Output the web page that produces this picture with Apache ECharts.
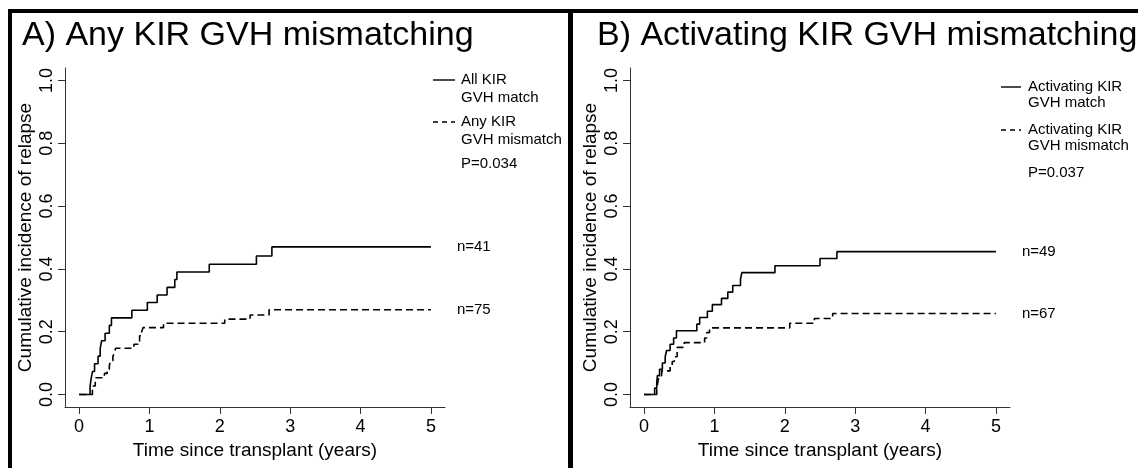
<!DOCTYPE html>
<html>
<head>
<meta charset="utf-8">
<script src="https://cdn.jsdelivr.net/npm/echarts@6/dist/echarts.min.js"></script>
<style>
  html, body { margin: 0; padding: 0; background: #fff; }
  #chart { width: 1138px; height: 468px; }
</style>
</head>
<body>
<div id="chart"></div>
<script>
const xTicks = [0, 1, 2, 3, 4, 5];
const yTicks = [0, 0.2, 0.4, 0.6, 0.8, 1.0];

// A) any KIR GVH mismatching
const aMatchTime = [0, 0.156, 0.17, 0.19, 0.22, 0.27, 0.3, 0.32, 0.37, 0.43, 0.46, 0.75, 0.97, 1.11, 1.25, 1.36, 1.39, 1.85, 2.52, 2.74, 5];
const aMatchCI   = [0, 0.024, 0.049, 0.073, 0.098, 0.122, 0.146, 0.171, 0.195, 0.22, 0.244, 0.268, 0.293, 0.317, 0.341, 0.366, 0.39, 0.415, 0.441, 0.47, 0.47];
const aMismatchTime = [0, 0.19, 0.23, 0.36, 0.4, 0.43, 0.45, 0.48, 0.5, 0.52, 0.78, 0.86, 0.89, 0.91, 1.2, 2.07, 2.43, 2.7, 5];
const aMismatchCI   = [0, 0.027, 0.053, 0.067, 0.08, 0.093, 0.107, 0.12, 0.133, 0.147, 0.16, 0.187, 0.2, 0.213, 0.227, 0.24, 0.253, 0.27, 0.27];

// B) activating KIR GVH mismatching
const bMatchTime = [0, 0.15, 0.18, 0.19, 0.22, 0.26, 0.3, 0.32, 0.37, 0.42, 0.46, 0.75, 0.79, 0.9, 0.97, 1.1, 1.19, 1.26, 1.37, 1.39, 1.86, 2.5, 2.74, 5];
const bMatchCI   = [0, 0.02, 0.04, 0.06, 0.08, 0.1, 0.12, 0.14, 0.16, 0.18, 0.203, 0.224, 0.245, 0.265, 0.286, 0.306, 0.326, 0.347, 0.367, 0.388, 0.41, 0.433, 0.455, 0.455];
const bMismatchTime = [0, 0.18, 0.2, 0.22, 0.25, 0.37, 0.4, 0.43, 0.47, 0.57, 0.86, 0.89, 0.93, 2.07, 2.42, 2.68, 5];
const bMismatchCI   = [0, 0.015, 0.045, 0.06, 0.075, 0.09, 0.105, 0.12, 0.15, 0.165, 0.18, 0.197, 0.212, 0.227, 0.242, 0.258, 0.258];

const FONT = "'Liberation Sans', Arial, Helvetica, sans-serif";
const AXIS_COLOR = "#333";

const zip = (xs, ys) => xs.map((x, i) => [x, ys[i]]);

function xAxisFor(gridIndex) {
  return {
    type: "value",
    gridIndex,
    min: -0.2,
    max: 5.2,
    name: "Time since transplant (years)",
    nameLocation: "middle",
    nameGap: 34,
    nameTextStyle: { color: "#000", fontSize: 19, fontFamily: FONT },
    axisLine: { onZero: false, lineStyle: { color: AXIS_COLOR, width: 1 } },
    axisTick: { show: true, length: 7, customValues: xTicks, lineStyle: { color: AXIS_COLOR } },
    axisLabel: { customValues: xTicks, margin: 11, color: "#000", fontSize: 18, fontFamily: FONT },
    splitLine: { show: false },
  };
}

function yAxisFor(gridIndex) {
  return {
    type: "value",
    gridIndex,
    min: -0.04,
    max: 1.04,
    name: "Cumulative incidence of relapse",
    nameLocation: "middle",
    nameRotate: 90,
    nameGap: 30,
    nameTextStyle: { color: "#000", fontSize: 19, fontFamily: FONT },
    axisLine: { show: true, onZero: false, lineStyle: { color: AXIS_COLOR, width: 1 } },
    axisTick: { show: true, length: 7, customValues: yTicks, lineStyle: { color: AXIS_COLOR } },
    axisLabel: {
      customValues: yTicks,
      rotate: 90,
      margin: 9,
      color: "#000",
      fontSize: 18,
      fontFamily: FONT,
      formatter: (v) => v.toFixed(1),
    },
    splitLine: { show: false },
  };
}

function curve(name, axisIndex, points, dashed, nLabel) {
  return {
    name,
    type: "line",
    xAxisIndex: axisIndex,
    yAxisIndex: axisIndex,
    step: "end",
    symbol: "none",
    silent: true,
    data: points,
    lineStyle: { color: "#000", width: 1.6, type: dashed ? [7, 4] : "solid" },
    endLabel: {
      show: true,
      formatter: nLabel,
      distance: 26,
      color: "#000",
      fontSize: 15,
      fontFamily: FONT,
    },
  };
}

function text(x, y, str, size) {
  return {
    type: "text",
    x,
    y,
    style: { text: str, fill: "#000", font: `${size}px ${FONT}`, verticalAlign: "middle" },
  };
}

function keyLine(x1, x2, y, dashed) {
  return {
    type: "line",
    shape: { x1, y1: y, x2, y2: y },
    style: { stroke: "#000", lineWidth: 1.4, lineDash: dashed ? [5, 4] : null },
  };
}

const chart = echarts.init(document.getElementById("chart"));

chart.setOption({
  animation: false,
  backgroundColor: "#fff",
  grid: [
    { left: 65, top: 68, width: 380, height: 339 },
    { left: 630, top: 68, width: 380, height: 339 },
  ],
  xAxis: [xAxisFor(0), xAxisFor(1)],
  yAxis: [yAxisFor(0), yAxisFor(1)],
  series: [
    curve("All KIR GVH match", 0, zip(aMatchTime, aMatchCI), false, "n=41"),
    curve("Any KIR GVH mismatch", 0, zip(aMismatchTime, aMismatchCI), true, "n=75"),
    curve("Activating KIR GVH match", 1, zip(bMatchTime, bMatchCI), false, "n=49"),
    curve("Activating KIR GVH mismatch", 1, zip(bMismatchTime, bMismatchCI), true, "n=67"),
  ],
  graphic: [
    // panel frames
    { type: "rect", shape: { x: 8, y: 9, width: 1130, height: 4 }, style: { fill: "#000" } },
    { type: "rect", shape: { x: 8, y: 9, width: 4, height: 459 }, style: { fill: "#000" } },
    { type: "rect", shape: { x: 568, y: 9, width: 5, height: 459 }, style: { fill: "#000" } },
    // panel titles
    text(22, 36, "A) Any KIR GVH mismatching", 34),
    text(597, 36, "B) Activating KIR GVH mismatching", 34),
    // legend A
    keyLine(433, 455, 80, false),
    text(461, 80, "All KIR", 15),
    text(461, 98, "GVH match", 15),
    keyLine(433, 455, 122, true),
    text(461, 122, "Any KIR", 15),
    text(461, 140, "GVH mismatch", 15),
    text(461, 164, "P=0.034", 15),
    // legend B
    keyLine(1001, 1021, 87, false),
    text(1028, 87, "Activating KIR", 15),
    text(1028, 103, "GVH match", 15),
    keyLine(1001, 1021, 130, true),
    text(1028, 130, "Activating KIR", 15),
    text(1028, 146, "GVH mismatch", 15),
    text(1028, 173, "P=0.037", 15),
  ],
});
</script>
</body>
</html>
